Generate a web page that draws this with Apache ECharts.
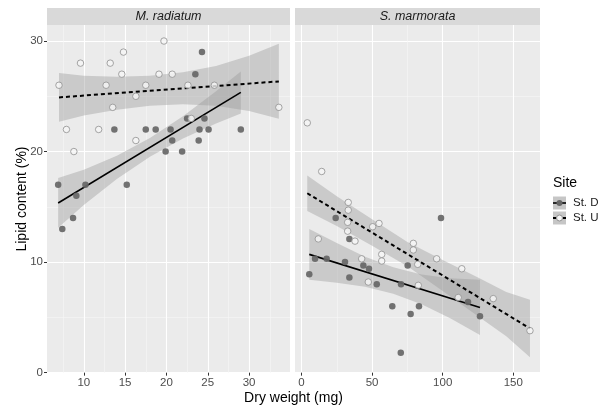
<!DOCTYPE html>
<html><head><meta charset="utf-8">
<script src="https://cdn.jsdelivr.net/npm/echarts@6/dist/echarts.min.js"></script>
<style>html,body{margin:0;padding:0;background:#fff}#chart{width:611px;height:407px}</style>
</head><body><div id="chart"></div>
<script>
// ---------- DATA ----------
const panelTitles = ['M. radiatum', 'S. marmorata'];
const siteNames = ['St. D', 'St. U'];

// M. radiatum, St. D (filled points) [dry weight mg, lipid %]
const radiatumD = [[6.9,17.0],[7.4,13.0],[8.7,14.0],[9.1,16.0],[10.2,17.0],[13.7,22.0],[15.2,17.0],[17.5,22.0],[18.7,22.0],[19.9,20.0],[20.5,22.0],[20.7,21.0],[21.9,20.0],[22.5,23.0],[23.5,27.0],[23.9,21.0],[24.0,22.0],[24.3,29.0],[24.6,23.0],[25.1,22.0],[29.0,22.0]];
// M. radiatum, St. U (open points)
const radiatumU = [[7.0,26.0],[7.9,22.0],[8.8,20.0],[9.6,28.0],[11.8,22.0],[12.7,26.0],[13.2,28.0],[13.5,24.0],[14.6,27.0],[14.8,29.0],[16.3,25.0],[16.3,21.0],[17.5,26.0],[19.1,27.0],[19.7,30.0],[20.7,27.0],[22.6,26.0],[23.0,23.0],[25.8,26.0],[33.6,24.0]];
// S. marmorata, St. D
const marmorataD = [[5.5,8.9],[9.6,10.3],[17.8,10.3],[24.2,14.0],[30.8,10.0],[33.9,12.1],[33.9,8.6],[43.8,9.7],[47.8,9.4],[53.3,8.0],[64.3,6.0],[70.3,1.8],[70.5,8.0],[75.2,9.7],[77.3,5.3],[83.2,6.0],[98.8,14.0],[117.9,6.4],[126.4,5.1]];
// S. marmorata, St. U
const marmorataU = [[4.1,22.6],[14.3,18.2],[11.9,12.1],[33.1,15.4],[33.1,14.7],[32.7,13.6],[32.7,12.8],[37.9,11.9],[42.6,10.3],[47.3,8.2],[50.4,13.2],[54.9,13.5],[56.8,10.7],[56.8,10.1],[79.2,11.7],[79.2,11.1],[82.3,9.8],[82.7,7.9],[95.7,10.3],[113.5,9.4],[111.0,6.8],[135.8,6.7],[161.8,3.8]];

// fitted lines (end points)
const fitRadD = [[6.9,15.35],[29.0,25.35]];
const fitRadU = [[7.0,24.9],[33.6,26.35]];
const fitMarD = [[5.5,10.7],[126.4,5.9]];
const fitMarU = [[4.1,16.23],[161.8,4.0]];

// confidence bands
const bandRadD_x  = [6.9, 10, 14, 18, 22, 26, 29];
const bandRadD_lo = [13.1, 15.16, 17.52, 19.53, 21.19, 22.55, 23.45];
const bandRadD_hi = [17.6, 18.36, 19.62, 21.23, 23.19, 25.45, 27.25];
const bandRadU_x  = [7.0, 10, 14, 18, 22, 26, 30, 33.6];
const bandRadU_lo = [22.7, 23.26, 23.78, 24.15, 24.27, 24.14, 23.66, 22.96];
const bandRadU_hi = [27.1, 26.86, 26.78, 26.85, 27.17, 27.74, 28.66, 29.76];
const bandMarD_x  = [5.5, 25, 45, 65, 85, 105, 126.4];
const bandMarD_lo = [8.4, 8.13, 7.78, 7.14, 6.19, 4.95, 3.4];
const bandMarD_hi = [13.0, 11.73, 10.48, 9.54, 8.89, 8.55, 8.4];
const bandMarU_x  = [4.1, 25, 50, 75, 100, 125, 145, 161.8];
const bandMarU_lo = [14.63, 13.26, 11.47, 9.63, 7.39, 5.1, 3.3, 1.4];
const bandMarU_hi = [17.83, 15.96, 13.87, 11.83, 10.19, 8.6, 7.3, 6.6];

// ticks
const xTicksRad = [10, 15, 20, 25, 30, 35];
const xMinorRad = [7.5, 12.5, 17.5, 22.5, 27.5, 32.5];
const xTicksMar = [0, 50, 100, 150];
const xMinorMar = [25, 75, 125];
const yTicks = [0, 10, 20, 30];
const yMinor = [5, 15, 25];

// ---------- CHART ----------
const FONT = '"Liberation Sans", Arial, Helvetica, sans-serif';
const grids = [
  {left: 47, top: 25, width: 243, height: 348, show: true, backgroundColor: '#ebebeb', borderWidth: 0},
  {left: 295, top: 25, width: 245, height: 348, show: true, backgroundColor: '#ebebeb', borderWidth: 0}
];
const xRanges = [[5.55, 34.95], [-4.6, 168.9]];
const yRange = [-0.03, 31.45];
const xMajor = [xTicksRad, xTicksMar];
const xMinor = [xMinorRad, xMinorMar];

const xAxes = [], yAxes = [];
for (let g = 0; g < 2; g++) {
  xAxes.push({
    type: 'value', gridIndex: g, min: xRanges[g][0], max: xRanges[g][1],
    axisLine: {show: false},
    axisTick: {show: true, length: 3, lineStyle: {color: '#333', width: 1}, customValues: xMajor[g]},
    axisLabel: {show: true, customValues: xMajor[g], color: '#4d4d4d', fontSize: 11.5, margin: 4, fontFamily: FONT},
    splitLine: {show: true, lineStyle: {color: '#ffffff', width: 1.1}}
  });
  xAxes.push({
    type: 'value', gridIndex: g, min: xRanges[g][0], max: xRanges[g][1],
    axisLine: {show: false},
    axisTick: {show: false, customValues: xMinor[g]},
    axisLabel: {show: false, customValues: xMinor[g]},
    splitLine: {show: true, lineStyle: {color: '#f7f7f7', width: 0.6}}
  });
  yAxes.push({
    type: 'value', gridIndex: g, min: yRange[0], max: yRange[1],
    axisLine: {show: false},
    axisTick: {show: g === 0, length: 3, lineStyle: {color: '#333', width: 1}, customValues: yTicks},
    axisLabel: {show: g === 0, customValues: yTicks, color: '#4d4d4d', fontSize: 11.5, margin: 4, fontFamily: FONT},
    splitLine: {show: true, lineStyle: {color: '#ffffff', width: 1.1}}
  });
  yAxes.push({
    type: 'value', gridIndex: g, min: yRange[0], max: yRange[1],
    axisLine: {show: false},
    axisTick: {show: false, customValues: yMinor},
    axisLabel: {show: false, customValues: yMinor},
    splitLine: {show: true, lineStyle: {color: '#f7f7f7', width: 0.6}}
  });
}

function bandSeries(bx, lo, hi, g) {
  return {
    type: 'custom', xAxisIndex: g * 2, yAxisIndex: g * 2, z: 3, silent: true,
    data: bx.map((x, i) => [x, lo[i], hi[i]]),
    encode: {x: 0, y: [1, 2]},
    renderItem: function (params, api) {
      if (params.dataIndex !== 0) return;
      const pts = [];
      for (let i = 0; i < bx.length; i++) pts.push(api.coord([bx[i], hi[i]]));
      for (let i = bx.length - 1; i >= 0; i--) pts.push(api.coord([bx[i], lo[i]]));
      return {type: 'polygon', shape: {points: pts}, style: {fill: 'rgba(153,153,153,0.4)'}};
    }
  };
}
function lineSeries(pts, g, dashed) {
  return {
    type: 'line', xAxisIndex: g * 2, yAxisIndex: g * 2, z: 4, silent: true,
    data: pts, showSymbol: false, symbol: 'none',
    lineStyle: dashed ? {color: '#000', width: 2, type: [4, 3]} : {color: '#000', width: 1.6}
  };
}
function pointSeries(pts, g, open, name) {
  return {
    type: 'scatter', name: name, xAxisIndex: g * 2, yAxisIndex: g * 2, z: 5, silent: true,
    data: pts, symbol: 'circle', symbolSize: 6.5,
    itemStyle: open ? {color: '#f6f6f6', borderColor: '#909090', borderWidth: 1}
                    : {color: '#666666', opacity: 0.92}
  };
}

const series = [
  bandSeries(bandRadD_x, bandRadD_lo, bandRadD_hi, 0),
  bandSeries(bandRadU_x, bandRadU_lo, bandRadU_hi, 0),
  bandSeries(bandMarD_x, bandMarD_lo, bandMarD_hi, 1),
  bandSeries(bandMarU_x, bandMarU_lo, bandMarU_hi, 1),
  pointSeries(radiatumD, 0, false, siteNames[0]),
  pointSeries(radiatumU, 0, true, siteNames[1]),
  pointSeries(marmorataD, 1, false, siteNames[0]),
  pointSeries(marmorataU, 1, true, siteNames[1]),
  lineSeries(fitRadD, 0, false),
  lineSeries(fitRadU, 0, true),
  lineSeries(fitMarD, 1, false),
  lineSeries(fitMarU, 1, true)
];

const graphic = [];
// facet strips
grids.forEach((gr, i) => {
  graphic.push({type: 'rect', silent: true, shape: {x: gr.left, y: 8, width: gr.width, height: 17}, style: {fill: '#d9d9d9'}});
  graphic.push({type: 'text', silent: true, x: gr.left + gr.width / 2, y: 17,
    style: {text: panelTitles[i], fontStyle: 'italic', fontSize: 12.5, fontFamily: FONT, fill: '#1a1a1a', align: 'center', verticalAlign: 'middle'}});
});
// axis titles
graphic.push({type: 'text', silent: true, x: 293.5, y: 398,
  style: {text: 'Dry weight (mg)', fontSize: 14, fontFamily: FONT, fill: '#000', align: 'center', verticalAlign: 'middle'}});
graphic.push({type: 'text', silent: true, x: 22, y: 199, rotation: Math.PI / 2,
  style: {text: 'Lipid content (%)', fontSize: 14, fontFamily: FONT, fill: '#000', align: 'center', verticalAlign: 'middle'}});
// legend
graphic.push({type: 'text', silent: true, x: 553, y: 183,
  style: {text: 'Site', fontSize: 14, fontFamily: FONT, fill: '#000', align: 'left', verticalAlign: 'middle'}});
[0, 1].forEach(k => {
  const cy = 203 + k * 15;
  graphic.push({type: 'rect', silent: true, shape: {x: 553, y: cy - 6.5, width: 13, height: 13}, style: {fill: '#c6c6c6'}});
  graphic.push({type: 'line', silent: true, shape: {x1: 553, y1: cy, x2: 566, y2: cy},
    style: k === 0 ? {stroke: '#000', lineWidth: 1.6} : {stroke: '#000', lineWidth: 2, lineDash: [3, 2]}});
  graphic.push({type: 'circle', silent: true, shape: {cx: 559.5, cy: cy, r: 3},
    style: k === 0 ? {fill: '#666'} : {fill: '#f6f6f6', stroke: '#909090', lineWidth: 1}});
  graphic.push({type: 'text', silent: true, x: 573, y: cy,
    style: {text: siteNames[k], fontSize: 11.5, fontFamily: FONT, fill: '#1a1a1a', align: 'left', verticalAlign: 'middle'}});
});

const chart = echarts.init(document.getElementById('chart'), null, {renderer: 'canvas'});
chart.setOption({
  animation: false,
  backgroundColor: '#ffffff',
  textStyle: {fontFamily: FONT},
  grid: grids,
  xAxis: xAxes,
  yAxis: yAxes,
  series: series,
  graphic: graphic
});
</script></body></html>
